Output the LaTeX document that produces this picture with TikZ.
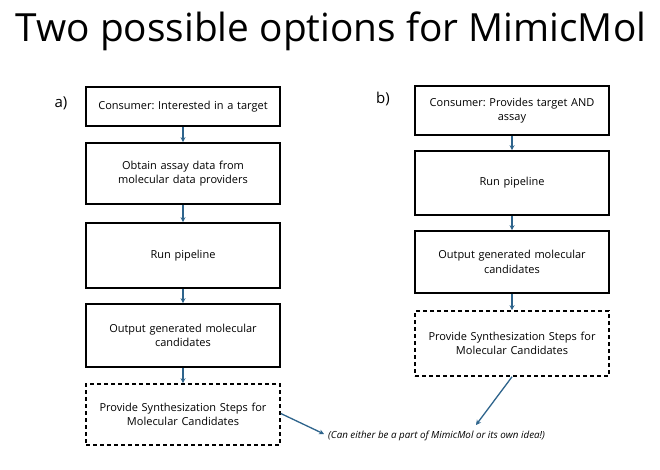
\documentclass[tikz,border=0pt]{standalone}
\usepackage{fontspec}
\setmainfont{Open Sans}
\usetikzlibrary{arrows.meta}

\begin{document}
\frenchspacing
\begin{tikzpicture}[x=1pt, y=-1pt,
    stepbox/.style={draw=black, line width=1.6pt, minimum width=194pt, text width=186pt,
      align=center, inner sep=0pt, font=\fontsize{11}{14.5}\selectfont},
    optbox/.style={stepbox, dash pattern=on 4pt off 3pt},
    flow/.style={draw={rgb,255:red,46;green,100;blue,140}, line width=1.3pt,
      -{Stealth[length=5pt,width=5pt]}}]
    \useasboundingbox[fill=white] (0,0) rectangle (660,470);
    \node (title) at (331,31) {\fontsize{38.8}{42}\selectfont Two possible options for MimicMol};
    % option a)
    \node at (61,103) {\fontsize{15}{17}\selectfont a)};
    \node[stepbox, minimum height=39pt] (A1) at (183,106.5) {Consumer: Interested in a target};
    \node[stepbox, minimum height=61pt] (A2) at (183,173.5) {Obtain assay data from\\molecular data providers};
    \node[stepbox, minimum height=65pt] (A3) at (183,255.5) {Run pipeline};
    \node[stepbox, minimum height=63pt] (A4) at (183,335.5) {Output generated molecular\\candidates};
    \node[optbox, minimum height=61pt] (A5) at (183,414.5) {Provide Synthesization Steps for\\Molecular Candidates};
    \foreach \i/\j in {1/2, 2/3, 3/4, 4/5} {
      \draw[flow] (A\i.south) -- (A\j.north);
    }
    % option b)
    \node at (383,99) {\fontsize{15}{17}\selectfont b)};
    \node[stepbox, minimum height=49pt] (B1) at (512,110.5) {Consumer: Provides target AND\\assay};
    \node[stepbox, minimum height=64pt] (B2) at (512,183) {Run pipeline};
    \node[stepbox, minimum height=62pt] (B3) at (512,262) {Output generated molecular\\candidates};
    \node[optbox, minimum height=65pt] (B4) at (512,343.5) {Provide Synthesization Steps for\\Molecular Candidates};
    \foreach \i/\j in {1/2, 2/3, 3/4} {
      \draw[flow] (B\i.south) -- (B\j.north);
    }
    % shared note
    \node[anchor=west, inner sep=0pt, font=\itshape\fontsize{9.8}{11}\selectfont] (note) at (328,436)
      {(Can either be a part of MimicMol or its own idea!)};
    \coordinate (noteA) at (324,434);
    \coordinate (noteB) at (476,425);
    \draw[flow] (A5.east) ++(0,-1) -- (noteA);
    \draw[flow] (B4.south) -- (noteB);
\end{tikzpicture}
\end{document}
